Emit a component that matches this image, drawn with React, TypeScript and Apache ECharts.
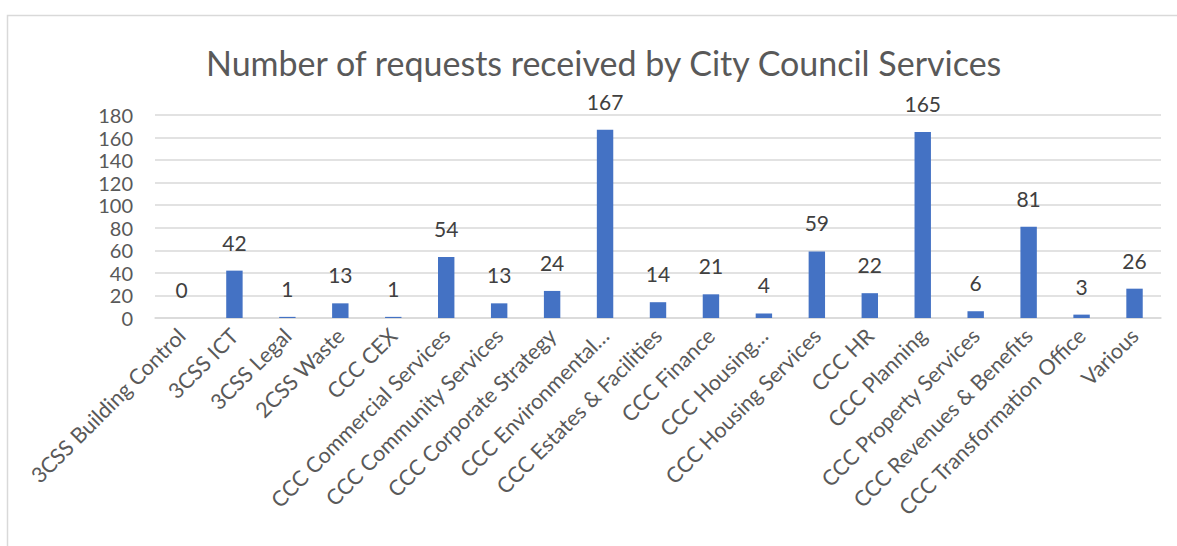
import React, { useEffect, useRef } from "react";
import * as echarts from "echarts";

const categories = [
  "3CSS Building Control",
  "3CSS ICT",
  "3CSS Legal",
  "2CSS Waste",
  "CCC CEX",
  "CCC Commercial Services",
  "CCC Community Services",
  "CCC Corporate Strategy",
  "CCC Environmental…",
  "CCC Estates & Facilities",
  "CCC Finance",
  "CCC Housing…",
  "CCC Housing Services",
  "CCC HR",
  "CCC Planning",
  "CCC Property Services",
  "CCC Revenues & Benefits",
  "CCC Transformation Office",
  "Various",
];
const requests = [0, 42, 1, 13, 1, 54, 13, 24, 167, 14, 21, 4, 59, 22, 165, 6, 81, 3, 26];
const titleText = "Number of requests received by City Council Services";

const FONT = "Lato, 'Noto Sans', sans-serif";

export default function App() {
  const ref = useRef<HTMLDivElement>(null);
  useEffect(() => {
    document.body.style.margin = "0";
    const chart = echarts.init(ref.current!, null, { renderer: "svg" });
    chart.setOption({
      animation: false,
      backgroundColor: "#ffffff",
      title: {
        text: titleText,
        left: 201,
        top: 40,
        textStyle: { fontFamily: FONT, fontSize: 34, fontWeight: "normal", color: "#595959" },
      },
      graphic: [
        {
          type: "rect",
          shape: { x: 7.5, y: 15.5, width: 1200, height: 600 },
          style: { fill: "none", stroke: "#d9d9d9", lineWidth: 1.5 },
          silent: true,
        },
      ],
      grid: { left: 155, right: 16, top: 115, bottom: 228 },
      xAxis: {
        type: "category",
        data: categories,
        axisTick: { show: false },
        axisLine: { lineStyle: { color: "#d9d9d9", width: 1.5 } },
        axisLabel: {
          rotate: 45,
          interval: 0,
          margin: 14,
          fontFamily: FONT,
          fontSize: 21.5,
          color: "#595959",
        },
      },
      yAxis: {
        type: "value",
        min: 0,
        max: 180,
        interval: 20,
        axisLine: { show: false },
        axisTick: { show: false },
        splitLine: { lineStyle: { color: "#d9d9d9", width: 1.5 } },
        axisLabel: { margin: 22, fontFamily: FONT, fontSize: 20, lineHeight: 18, color: "#595959" },
      },
      series: [
        {
          type: "bar",
          data: requests,
          barWidth: "31%",
          itemStyle: { color: "#4472C4" },
          label: {
            show: true,
            position: "top",
            distance: 18,
            fontFamily: FONT,
            fontSize: 21,
            color: "#404040",
          },
        },
      ],
    });
    return () => chart.dispose();
  }, []);
  return <div ref={ref} style={{ width: 1177, height: 546 }} />;
}
